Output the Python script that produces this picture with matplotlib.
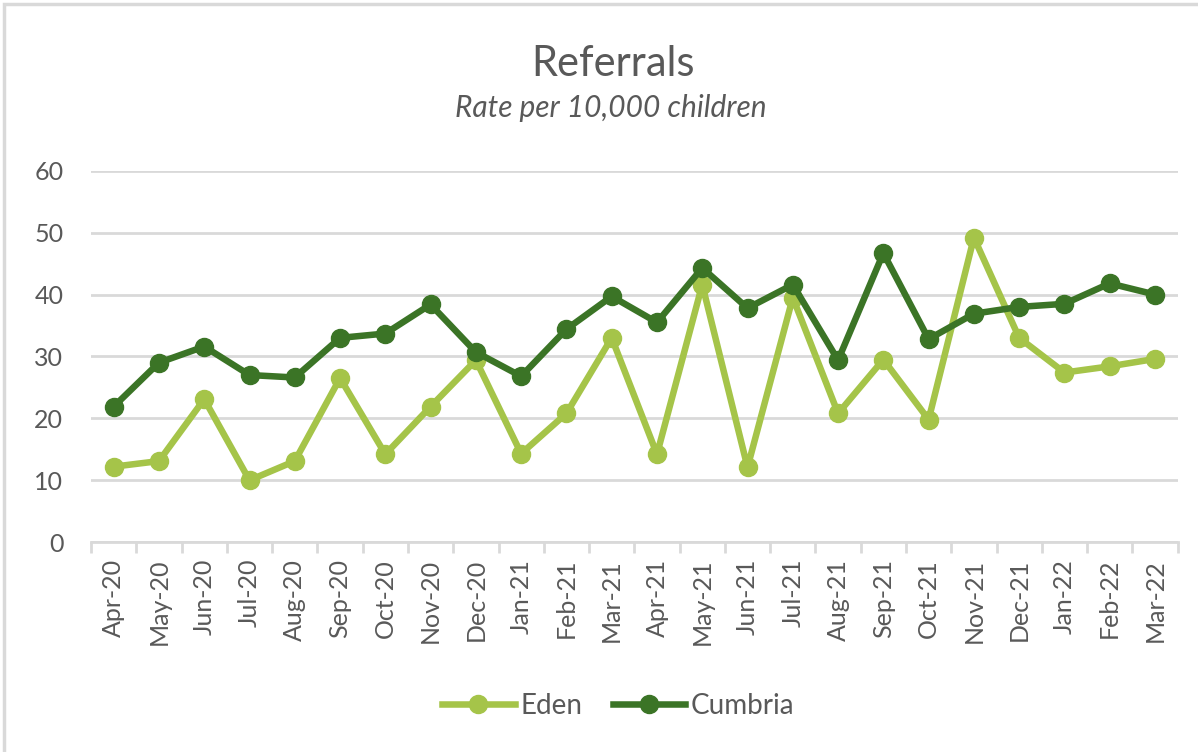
import matplotlib.pyplot as plt
from matplotlib.patches import Rectangle
from matplotlib.ticker import FixedLocator

months = ["Apr-20", "May-20", "Jun-20", "Jul-20", "Aug-20", "Sep-20", "Oct-20", "Nov-20",
          "Dec-20", "Jan-21", "Feb-21", "Mar-21", "Apr-21", "May-21", "Jun-21", "Jul-21",
          "Aug-21", "Sep-21", "Oct-21", "Nov-21", "Dec-21", "Jan-22", "Feb-22", "Mar-22"]
eden = [12.2, 13.1, 23.1, 10.0, 13.1, 26.5, 14.2, 21.9, 29.4, 14.3, 20.8, 33.0,
        14.2, 41.6, 12.1, 39.5, 20.8, 29.5, 19.8, 49.2, 33.0, 27.4, 28.4, 29.6]
cumbria = [21.9, 29.0, 31.6, 27.0, 26.6, 33.0, 33.7, 38.4, 30.7, 26.8, 34.4, 39.7,
           35.5, 44.3, 37.8, 41.6, 29.4, 46.7, 32.8, 36.9, 38.0, 38.5, 41.8, 40.0]
yticks = [0, 10, 20, 30, 40, 50, 60]

EDEN_C = "#A5C449"
CUMB_C = "#3B7426"
TEXT_C = "#595959"
GRID_C = "#D9D9D9"

plt.rcParams["font.family"] = ["Lato", "DejaVu Sans"]

fig = plt.figure(figsize=(11.98, 7.52), dpi=100)
fig.patches.append(Rectangle((0.003, -0.01), 1.2, 1.0045, transform=fig.transFigure,
                             fill=False, edgecolor="#D9D9D9", linewidth=2.5))

ax = fig.add_axes([0.076, 0.279, 0.907, 0.494])
x = list(range(len(months)))
ax.plot(x, eden, color=EDEN_C, lw=4.7, marker="o", ms=13, label="Eden", zorder=3)
ax.plot(x, cumbria, color=CUMB_C, lw=4.7, marker="o", ms=13, label="Cumbria", zorder=3)

ax.set_xlim(-0.5, len(months) - 0.5)
ax.set_ylim(0, 60)
ax.set_yticks(yticks)
ax.yaxis.grid(True, color=GRID_C, lw=2)
ax.set_axisbelow(True)
for s in ["top", "right", "left"]:
    ax.spines[s].set_visible(False)
ax.spines["bottom"].set_color(GRID_C)
ax.spines["bottom"].set_linewidth(2)

ax.set_xticks(x)
ax.set_xticklabels(months, rotation=90, fontsize=18, color=TEXT_C)
ax.tick_params(axis="x", which="major", length=0, pad=12)
ax.xaxis.set_minor_locator(FixedLocator([i - 0.5 for i in range(len(months) + 1)]))
ax.tick_params(axis="x", which="minor", length=8, width=2, color=GRID_C)
ax.tick_params(axis="y", length=0, labelsize=18, labelcolor=TEXT_C, pad=20)

fig.text(0.512, 0.915, "Referrals", ha="center", va="center", fontsize=30, color=TEXT_C)
fig.text(0.51, 0.857, "Rate per 10,000 children", ha="center", va="center", fontsize=21.5,
         style="italic", color=TEXT_C)

fig.legend(loc="center", bbox_to_anchor=(0.516, 0.061), ncol=2, frameon=False,
           fontsize=20, labelcolor=TEXT_C, handlelength=2.6, handletextpad=0.2,
           columnspacing=1.1)

fig.savefig("out.png", dpi=100)
